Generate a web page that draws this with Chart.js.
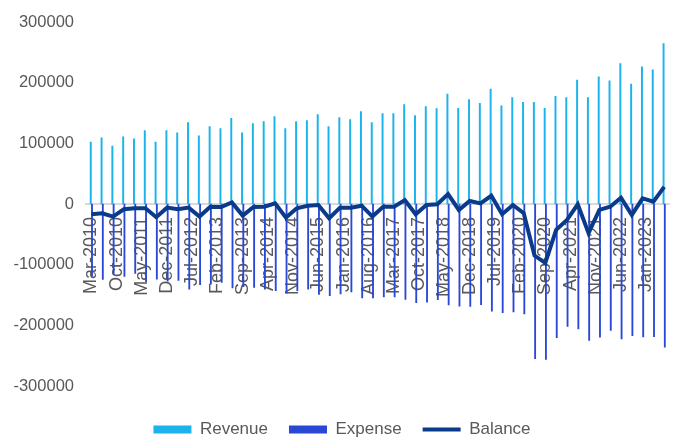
<!DOCTYPE html>
<html>
<head>
<meta charset="utf-8">
<script src="https://cdn.jsdelivr.net/npm/chart.js@4/dist/chart.umd.min.js"></script>
<style>
  html, body { margin: 0; padding: 0; background: #fff; }
  #wrap { width: 681px; height: 439px; }
</style>
</head>
<body>
<div id="wrap"><canvas id="myChart" width="681" height="439"></canvas></div>
<script>
// quarterly figures, first point Mar-2010
var revenue = [102000,109000,95400,110800,107500,121100,102000,121100,117300,134200,
  112400,127700,124400,141200,117300,132600,135800,144000,124400,135800,
  137500,147300,127700,142400,139100,152200,134200,148900,148900,163700,
  145700,160400,157100,181200,157600,172300,165800,189400,162000,175600,
  167400,167400,157600,177300,175600,204100,175600,209500,203000,231300,
  197500,226300,221000,264600];
var expense = [-118900,-124200,-116100,-119500,-114500,-128100,-123800,-127100,-126000,-140200,
  -133100,-132100,-129400,-138500,-136400,-137600,-140200,-142900,-146800,-142800,
  -140300,-148900,-151100,-148400,-145100,-155000,-154900,-153300,-153300,-157200,
  -162600,-162000,-157600,-166500,-168500,-169000,-166000,-176500,-179000,-178000,
  -181000,-255000,-256000,-220500,-201800,-206000,-225000,-219500,-208500,-222500,
  -217000,-219000,-218500,-236200];
var balance = [-16900,-15200,-20700,-8700,-7000,-7000,-21800,-6000,-8700,-6000,
  -20700,-4400,-5000,2700,-19100,-5000,-4400,1100,-22400,-7000,
  -2800,-1600,-23400,-6000,-6000,-2800,-20700,-4400,-4400,6500,
  -16900,-1600,-500,16400,-9800,4900,1100,13600,-16900,-1600,
  -15200,-85100,-97100,-42600,-26200,-500,-48000,-9800,-4400,10300,
  -18000,9300,3800,28300];

// axis labels, one every 7 months from Mar-2010
var tickLabels = ['Mar-2010','Oct-2010','May-2011','Dec-2011','Jul-2012','Feb-2013','Sep-2013',
  'Apr-2014','Nov-2014','Jun-2015','Jan-2016','Aug-2016','Mar-2017','Oct-2017','May-2018',
  'Dec-2018','Jul-2019','Feb-2020','Sep-2020','Apr-2021','Nov-2021','Jun-2022','Jan-2023'];
var yTicks = [-300000,-200000,-100000,0,100000,200000,300000];

// months since Mar-2010
var months = revenue.map(function(v, i){ return i * 3; });
function pts(arr){
  return arr.map(function(v, i){ return {x: months[i], y: v}; });
}

var textGray = '#595959';
var fontFam = '"Liberation Sans", Arial, sans-serif';

var ctx = document.getElementById('myChart');
var myChart = new Chart(ctx, {
  type: 'bar',
  data: {
    datasets: [{
      type: 'line',
      label: 'Balance',
      data: pts(balance),
      borderColor: '#0A3A8A',
      backgroundColor: '#0A3A8A',
      borderWidth: 4,
      pointRadius: 0,
      pointStyle: 'line',
      tension: 0,
      order: 0
    }, {
      label: 'Revenue',
      data: pts(revenue),
      backgroundColor: '#1CB3EC',
      barThickness: 1.3,
      pointStyle: 'rect',
      order: 1
    }, {
      label: 'Expense',
      data: pts(expense),
      backgroundColor: '#2A48D6',
      barThickness: 1.2,
      pointStyle: 'rect',
      order: 2
    }]
  },
  options: {
    responsive: false,
    animation: false,
    layout: { padding: { top: 22, right: 5, bottom: -9, left: 8 } },
    scales: {
      x: {
        type: 'linear',
        offset: false,
        min: -1.5,
        max: 160.5,
        position: { y: 0 },
        grid: { display: false, drawTicks: false },
        border: { display: true, color: '#D9D9D9', width: 2 },
        afterBuildTicks: function(scale){
          scale.ticks = tickLabels.map(function(t, i){ return {value: i * 7}; });
        },
        ticks: {
          autoSkip: false,
          minRotation: 90,
          maxRotation: 90,
          padding: 13,
          color: textGray,
          font: { family: fontFam, size: 18 },
          callback: function(value, index){ return tickLabels[index]; }
        }
      },
      y: {
        min: -300000,
        max: 300000,
        grid: { display: false, drawTicks: false },
        border: { display: false },
        afterBuildTicks: function(scale){
          scale.ticks = yTicks.map(function(v){ return {value: v}; });
        },
        afterFit: function(scale){ scale.width = 78; },
        ticks: {
          padding: 12,
          color: textGray,
          font: { family: fontFam, size: 16.5 },
          callback: function(value){ return String(value); }
        }
      }
    },
    plugins: {
      tooltip: { enabled: false },
      legend: {
        position: 'bottom',
        title: { display: true, text: ' ', font: { size: 10 }, padding: { top: 2, bottom: 0 } },
        labels: {
          usePointStyle: true,
          pointStyleWidth: 38,
          boxWidth: 38,
          boxHeight: 8,
          padding: 21,
          color: textGray,
          font: { family: fontFam, size: 17 },
          sort: function(a, b){
            var order = ['Revenue', 'Expense', 'Balance'];
            return order.indexOf(a.text) - order.indexOf(b.text);
          }
        }
      }
    }
  }
});
</script>
</body>
</html>
